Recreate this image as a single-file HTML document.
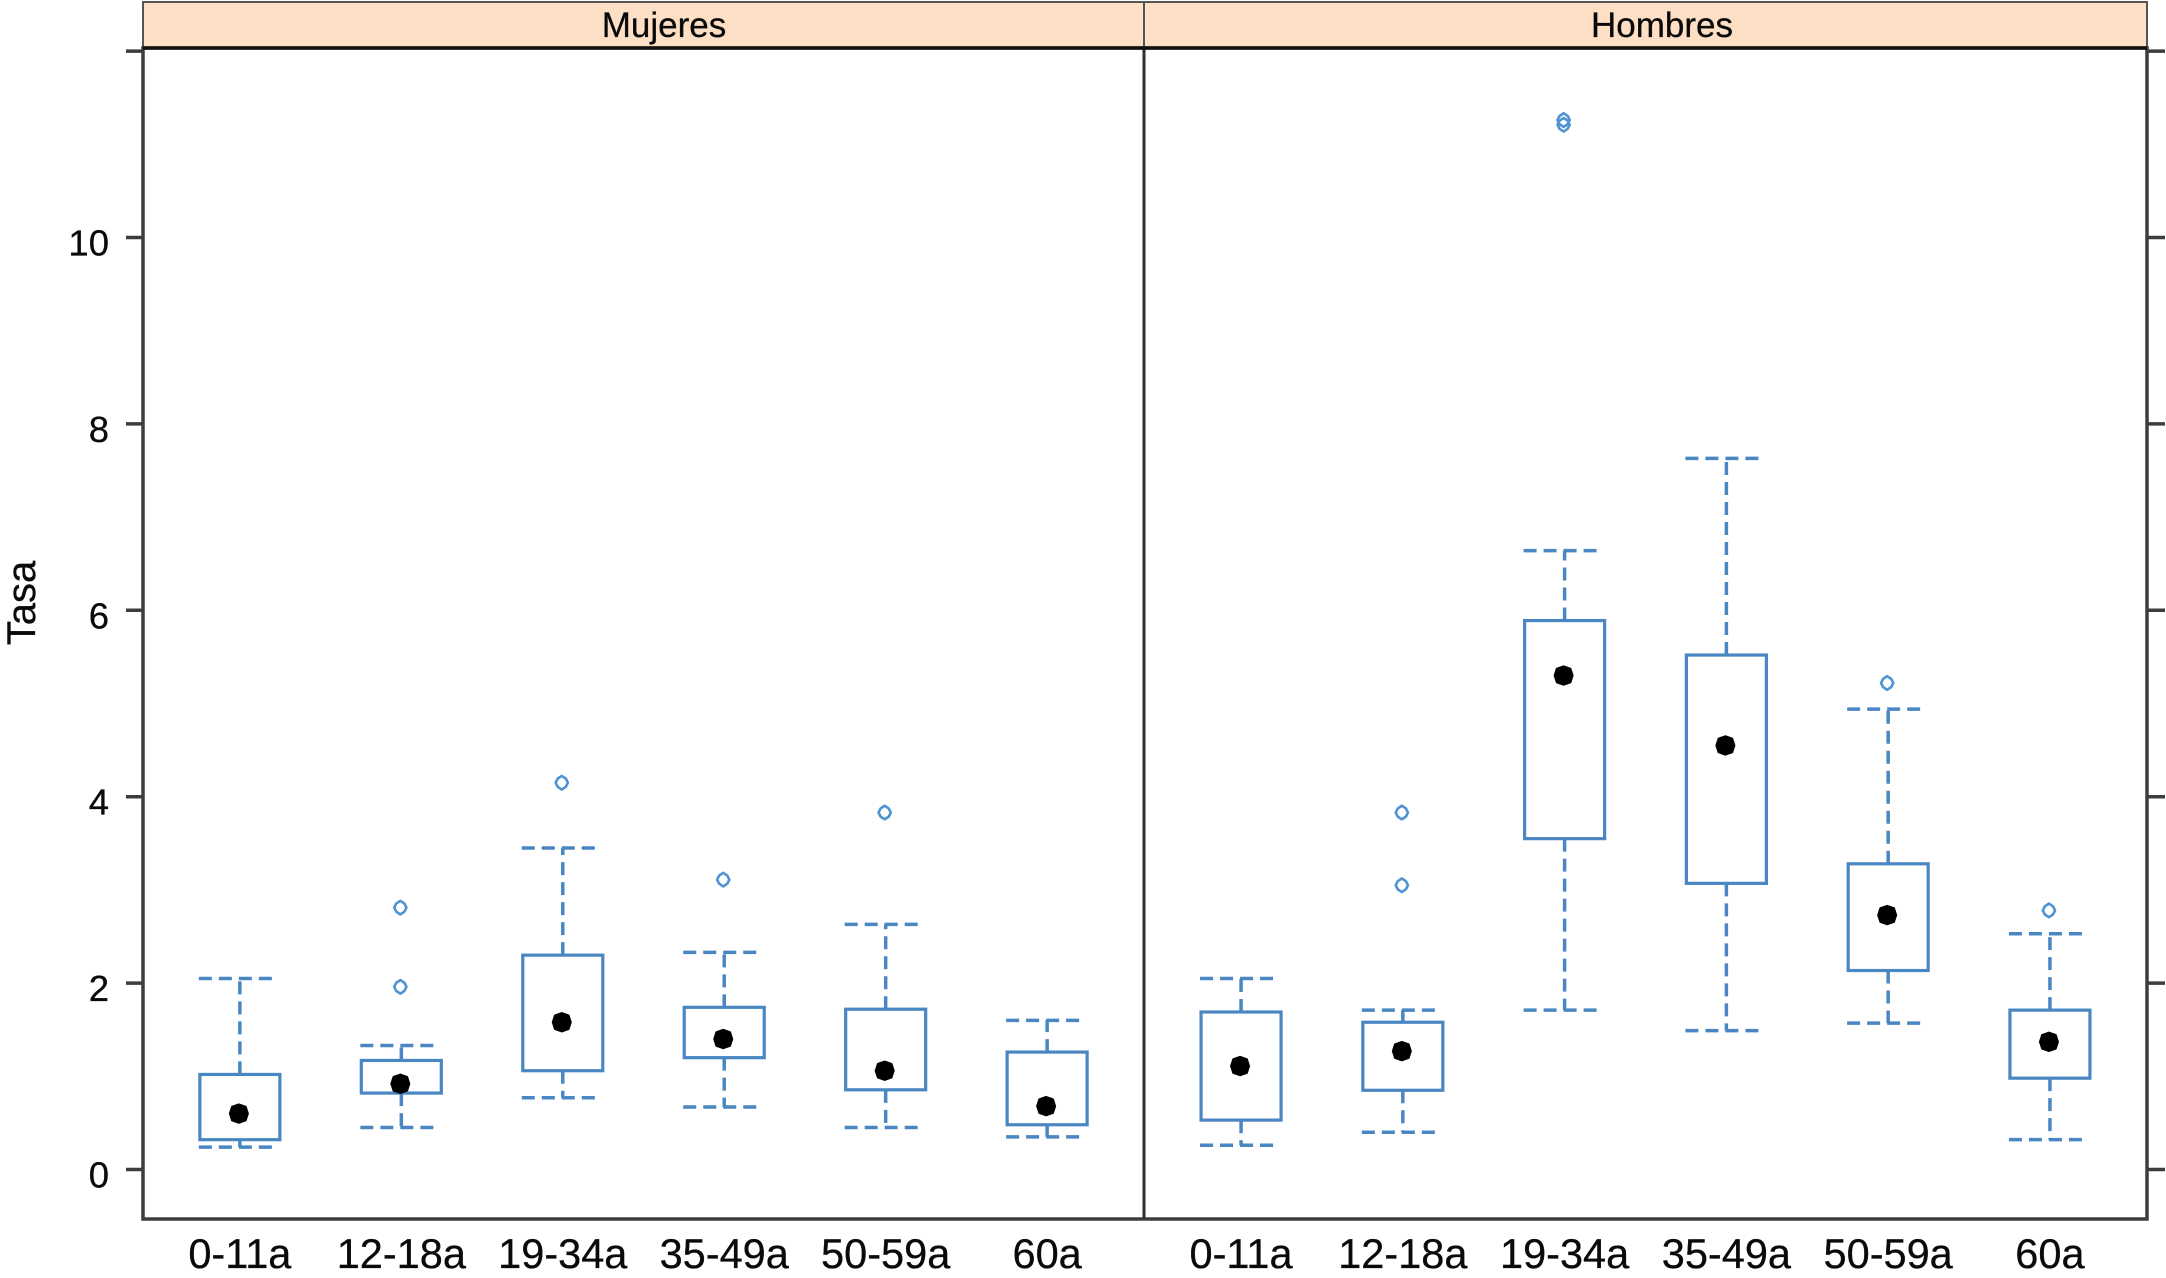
<!DOCTYPE html>
<html lang="es">
<head>
<meta charset="utf-8">
<title>Tasa por edad y sexo</title>
<style>
html,body{margin:0;padding:0;background:#fff;width:2166px;height:1278px;overflow:hidden}
svg{display:block}
text{font-family:"Liberation Sans",Arial,sans-serif;fill:#0a0a0a;stroke:#0a0a0a;stroke-width:0.3px}
</style>
</head>
<body>
<svg id="chart" xmlns="http://www.w3.org/2000/svg" width="2166" height="1278" viewBox="0 0 2166 1278"></svg>
<script>
const categories = ['0-11a','12-18a','19-34a','35-49a','50-59a','60a'];
const panelNames = ['Mujeres','Hombres'];
const yTicks = [0,2,4,6,8,10,12];
const yTickLabels = ['0','2','4','6','8','10',''];
const yTitle = 'Tasa';

const mujeresWhiskerHigh = [2.05,1.33,3.45,2.33,2.63,1.60];
const mujeresQ3 = [1.02,1.17,2.30,1.74,1.72,1.26];
const mujeresMedian = [0.60,0.92,1.58,1.40,1.06,0.68];
const mujeresQ1 = [0.32,0.82,1.06,1.20,0.855,0.48];
const mujeresWhiskerLow = [0.24,0.45,0.77,0.67,0.45,0.35];
const mujeresOutliers = [[],[1.96,2.81],[4.15],[3.11],[3.83],[]];

const hombresWhiskerHigh = [2.05,1.71,6.64,7.63,4.94,2.53];
const hombresQ3 = [1.69,1.58,5.89,5.52,3.28,1.71];
const hombresMedian = [1.11,1.27,5.30,4.55,2.73,1.37];
const hombresQ1 = [0.53,0.85,3.55,3.07,2.135,0.98];
const hombresWhiskerLow = [0.26,0.40,1.71,1.49,1.57,0.32];
const hombresOutliers = [[],[3.05,3.83],[11.21,11.26],[],[5.22],[2.78]];

const svg = document.getElementById('chart');
const NS = 'http://www.w3.org/2000/svg';
const BLUE = '#4a87c2';
const OUT = '#4f93d3';
const AXIS = '#3d3d3d';
const plotLeft = 143, plotMid = 1144, plotRight = 2147;
const plotBottom = 1219, stripTop = 2, stripBottom = 48;

function yScale(v){ return 1169.5 - v * 93.2; }
function xScale(panel, i){
  const left = panel === 0 ? plotLeft : plotMid;
  const right = panel === 0 ? plotMid : plotRight;
  return left + (i + 1 - 0.4) / 6.2 * (right - left);
}
function make(tag, attrs, parent){
  const e = document.createElementNS(NS, tag);
  for (const k in attrs) e.setAttribute(k, attrs[k]);
  (parent || svg).appendChild(e);
  return e;
}
function seg(x1,y1,x2,y2,stroke,width,dash,parent){
  const a = {x1:x1,y1:y1,x2:x2,y2:y2,stroke:stroke,'stroke-width':width};
  if (dash) a['stroke-dasharray'] = dash;
  return make('line', a, parent);
}
function octagonPoints(cx, cy, r, kf, wf){
  const k = r * kf, w = r * wf;
  return [[cx,cy-r],[cx+k,cy-k],[cx+w,cy],[cx+k,cy+k],[cx,cy+r],[cx-k,cy+k],[cx-w,cy],[cx-k,cy-k]]
    .map(function(q){ return q.join(','); }).join(' ');
}

/* strips */
const stripTextX = [664, 1662];
panelNames.forEach(function(name, p){
  const l = p === 0 ? plotLeft : plotMid;
  const r = p === 0 ? plotMid : plotRight;
  const strip = make('rect', {x:l,y:stripTop,width:r-l,height:stripBottom-stripTop,fill:'#fcdfc4',stroke:'#555','stroke-width':2});
  
  
  const t = make('text', {x:stripTextX[p],y:37,'text-anchor':'middle','font-size':35});
  t.textContent = name;
  
  
});

/* y axis */
yTicks.forEach(function(v, i){
  const y = yScale(v);
  const tl = seg(126, y, plotLeft, y, AXIS, 3.5);
  
  
  const tr = seg(plotRight, y, 2165, y, AXIS, 3.5);
  
  
  if (yTickLabels[i]) {
    const t = make('text', {x:109,y:y+18,'text-anchor':'end','font-size':36.5});
    t.textContent = yTickLabels[i];
    
    
  }
});
const yt = make('text', {x:0,y:0,'text-anchor':'middle','font-size':40,transform:'translate(35 603) rotate(-90)'});
yt.textContent = yTitle;



/* panel frames */
const frame = make('rect', {x:plotLeft,y:stripBottom,width:plotRight-plotLeft,height:plotBottom-stripBottom,fill:'none',stroke:AXIS,'stroke-width':3.5});


const divider = seg(plotMid, stripBottom, plotMid, plotBottom, '#2e2e2e', 3);


const stripLine = seg(plotLeft, stripBottom, plotRight, stripBottom, '#111', 3.5);



/* boxes */
const panelSeries = [
  {hi:mujeresWhiskerHigh,q3:mujeresQ3,med:mujeresMedian,q1:mujeresQ1,lo:mujeresWhiskerLow,out:mujeresOutliers},
  {hi:hombresWhiskerHigh,q3:hombresQ3,med:hombresMedian,q1:hombresQ1,lo:hombresWhiskerLow,out:hombresOutliers}
];
const DASH = '13 7';
panelSeries.forEach(function(s, p){
  categories.forEach(function(cat, i){
    const cx = xScale(p, i);
    const g = make('g', {});
    
    

    seg(cx, yScale(s.q3[i]), cx, yScale(s.hi[i]), BLUE, 3.5, DASH, g);
    seg(cx, yScale(s.q1[i]), cx, yScale(s.lo[i]), BLUE, 3.5, DASH, g);
    seg(cx-41, yScale(s.hi[i]), cx+32, yScale(s.hi[i]), BLUE, 3.5, DASH, g);
    seg(cx-41, yScale(s.lo[i]), cx+32, yScale(s.lo[i]), BLUE, 3.5, DASH, g);
    make('rect', {x:cx-40,y:yScale(s.q3[i]),width:80,height:yScale(s.q1[i])-yScale(s.q3[i]),fill:'none',stroke:BLUE,'stroke-width':3.2}, g);
    make('polygon', {points:octagonPoints(cx-1, yScale(s.med[i]), 10, 0.74, 0.98),fill:'#000',stroke:'#000','stroke-width':0.5,'stroke-linejoin':'round'}, g);
    s.out[i].forEach(function(v){
      make('polygon', {points:octagonPoints(cx-1, yScale(v), 6.8, 0.6, 0.9),fill:'none',stroke:OUT,'stroke-width':2.6,'stroke-linejoin':'round'}, g);
    });

    const t = make('text', {x:cx,y:1268,'text-anchor':'middle','font-size':41.5});
    t.textContent = cat;
    
    
  });
});
</script>
</body>
</html>
